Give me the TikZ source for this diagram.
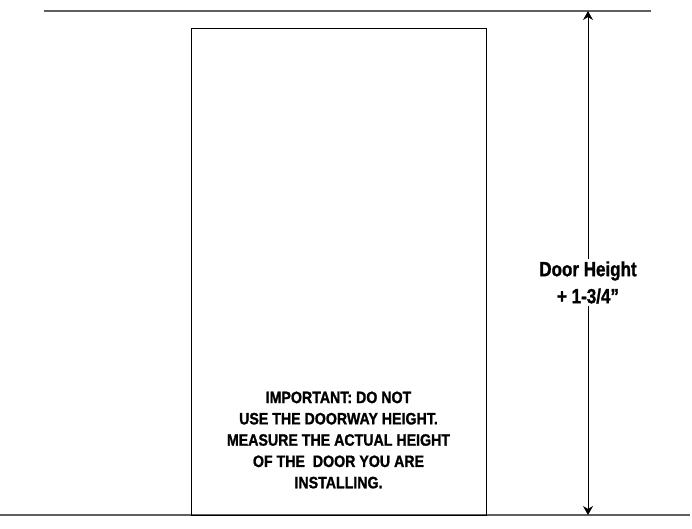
\documentclass[tikz,border=0pt]{standalone}
\usepackage{fontspec}
\newfontfamily\dimsans[FakeStretch=0.83, FakeBold=1.2]{Liberation Sans Bold}
\newfontfamily\notesans[FakeStretch=0.86, FakeBold=1.2]{Liberation Sans Bold}
\definecolor{floorgray}{RGB}{95, 95, 95}
\usepackage{tikz}
\usetikzlibrary{positioning, arrows.meta}

\begin{document}
\begin{tikzpicture}[
      x=1pt, y=-1pt,
      floorline/.style={draw=floorgray, line width=2.8pt},
      door/.style={
        draw=black, line width=1pt,
        minimum width=295pt, minimum height=487pt,
        inner sep=0pt
      },
      dimarrow/.style={
        {Stealth[length=9pt, width=10pt]}-{Stealth[length=9pt, width=10pt]},
        line width=1pt, black
      },
      dimlabel/.style={
        fill=white, align=center, inner sep=2pt,
        font=\dimsans\fontsize{20.5}{27}\selectfont
      },
      note/.style={
        align=center,
        font=\notesans\fontsize{16.5}{21.3}\selectfont
      }
    ]
      \useasboundingbox (0,0) rectangle (692,528);

      % ceiling and floor
      \draw[floorline] (44,11) -- (651,11);
      \draw[floorline] (0,515) -- (690,515);

      % the door
      \node[door] (door) at (338.5,271.5) {};

      % height dimension
      \coordinate (htop) at (588,11);
      \coordinate (hbot) at (588,515);
      \draw[dimarrow] (htop) -- (hbot);
      \node[dimlabel] (hlabel) at (588,282.5) {Door Height\\+ 1-3/4”};

      \node[note] (warn) at (338.5,440) {IMPORTANT: DO NOT\\USE THE DOORWAY HEIGHT.\\MEASURE THE ACTUAL HEIGHT\\OF THE\ \ DOOR YOU ARE\\INSTALLING.};
    \end{tikzpicture}
\end{document}
